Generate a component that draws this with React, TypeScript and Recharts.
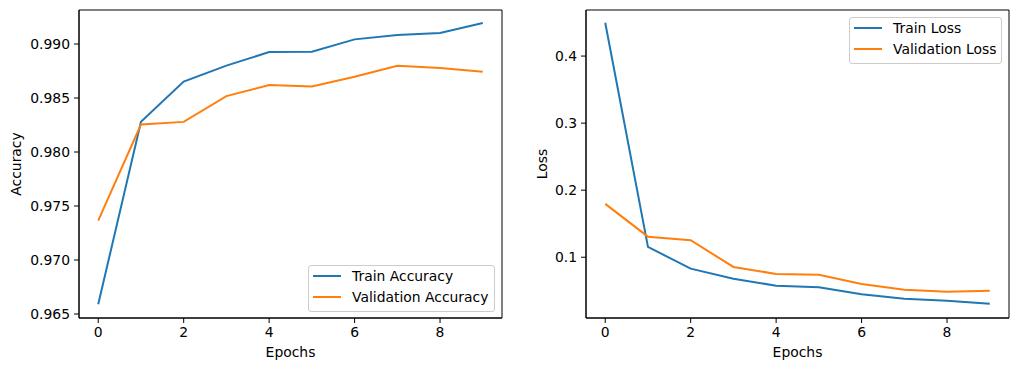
import { Legend, Line, LineChart, ReferenceArea, XAxis, YAxis } from "recharts"

const epochs = [0, 1, 2, 3, 4, 5, 6, 7, 8, 9]
const trainAccuracy = [0.9659, 0.9828, 0.98653, 0.988, 0.98926, 0.98929, 0.99043, 0.99083, 0.99102, 0.99195]
const valAccuracy = [0.97364, 0.98254, 0.98279, 0.98518, 0.9862, 0.98607, 0.98697, 0.98799, 0.98777, 0.98743]
const trainLoss = [0.4497, 0.1154, 0.083, 0.068, 0.0576, 0.0552, 0.0448, 0.0382, 0.0352, 0.0307]
const valLoss = [0.1796, 0.1307, 0.1254, 0.0855, 0.0751, 0.074, 0.0602, 0.0517, 0.0487, 0.0502]

const epochTicks = [0, 2, 4, 6, 8]
const accTicks = [0.965, 0.97, 0.975, 0.98, 0.985, 0.99]
const lossTicks = [0.1, 0.2, 0.3, 0.4]

const BLUE = "#1f77b4"
const ORANGE = "#ff7f0e"
const FONT = "'DejaVu Sans', sans-serif"
const FS = 13.9
const X_DOMAIN: [number, number] = [-0.45, 9.45]

const tickStyle = { fontSize: FS, fill: "#000", fontFamily: FONT }

type Item = { label: string; color: string }

function LegendBox({ items, width }: { items: Item[]; width: number }) {
  return (
    <div
      style={{
        width,
        boxSizing: "border-box",
        border: "1px solid #cccccc",
        borderRadius: 3,
        background: "rgba(255,255,255,0.8)",
        padding: "0 0 4px 4px",
        fontFamily: FONT,
        fontSize: FS,
        color: "#000",
      }}
    >
      {items.map((it, i) => (
        <div
          key={it.label}
          style={{ display: "flex", alignItems: "center", height: 20, marginTop: i === 0 ? 0 : 1.4 }}
        >
          <span style={{ display: "inline-block", width: 28, height: 2, background: it.color, marginRight: 11 }} />
          <span>{it.label}</span>
        </div>
      ))}
    </div>
  )
}

type PanelProps = {
  left: number
  width: number
  axisWidth: number
  marginRight: number
  labelOffset: number
  yLabel: string
  yDomain: [number, number]
  yTicks: number[]
  digits: number
  data: { epoch: number; train: number; val: number }[]
  items: Item[]
  legendPos: { left: number; top: number; width: number }
}

function Panel(p: PanelProps) {
  return (
    <div style={{ position: "absolute", left: p.left, top: 0 }}>
      <LineChart
        width={p.width}
        height={371}
        data={p.data}
        margin={{ top: 10, right: p.marginRight, bottom: 0, left: 0 }}
      >
        <XAxis
          dataKey="epoch"
          type="number"
          domain={X_DOMAIN}
          ticks={epochTicks}
          allowDataOverflow
          height={53}
          tickSize={5}
          tickMargin={4}
          tick={tickStyle}
          tickLine={{ stroke: "#000" }}
          axisLine={{ stroke: "#000" }}
          label={{ value: "Epochs", position: "insideBottom", offset: 14, style: { fontSize: FS, fill: "#000", fontFamily: FONT } }}
        />
        <YAxis
          type="number"
          domain={p.yDomain}
          ticks={p.yTicks}
          allowDataOverflow
          width={p.axisWidth}
          tickSize={5}
          tickMargin={4}
          tick={tickStyle}
          tickFormatter={(v: number) => v.toFixed(p.digits)}
          tickLine={{ stroke: "#000" }}
          axisLine={{ stroke: "#000" }}
          label={{
            value: p.yLabel,
            angle: -90,
            position: "insideLeft",
            offset: p.labelOffset,
            textAnchor: "middle",
            style: { fontSize: FS, fill: "#000", fontFamily: FONT, textAnchor: "middle" },
          }}
        />
        {/* frame around the plot area (top and right spines) */}
        <ReferenceArea
          x1={X_DOMAIN[0]}
          x2={X_DOMAIN[1]}
          y1={p.yDomain[0]}
          y2={p.yDomain[1]}
          fill="none"
          fillOpacity={0}
          stroke="#000"
          strokeOpacity={1}
          ifOverflow="visible"
        />
        <Line dataKey="train" name={p.items[0].label} stroke={BLUE} strokeWidth={2} dot={false} isAnimationActive={false} />
        <Line dataKey="val" name={p.items[1].label} stroke={ORANGE} strokeWidth={2} dot={false} isAnimationActive={false} />
        <Legend
          layout="horizontal"
          verticalAlign="middle"
          align="center"
          wrapperStyle={{ left: p.legendPos.left, top: p.legendPos.top, width: p.legendPos.width, height: "auto" }}
          content={() => <LegendBox items={p.items} width={p.legendPos.width} />}
        />
      </LineChart>
    </div>
  )
}

export default function App() {
  const accData = epochs.map((e, i) => ({ epoch: e, train: trainAccuracy[i], val: valAccuracy[i] }))
  const lossData = epochs.map((e, i) => ({ epoch: e, train: trainLoss[i], val: valLoss[i] }))

  return (
    <div style={{ position: "absolute", left: 0, top: 0, width: 1019, height: 371, background: "#fff" }}>
      <Panel
        left={0}
        width={510}
        axisWidth={79}
        marginRight={8}
        labelOffset={16}
        yLabel="Accuracy"
        yDomain={[0.96463, 0.99315]}
        yTicks={accTicks}
        digits={3}
        data={accData}
        items={[
          { label: "Train Accuracy", color: BLUE },
          { label: "Validation Accuracy", color: ORANGE },
        ]}
        legendPos={{ left: 308, top: 265, width: 187 }}
      />
      <Panel
        left={510}
        width={509}
        axisWidth={76}
        marginRight={10}
        labelOffset={32}
        yLabel="Loss"
        yDomain={[0.0094, 0.4687]}
        yTicks={lossTicks}
        digits={1}
        data={lossData}
        items={[
          { label: "Train Loss", color: BLUE },
          { label: "Validation Loss", color: ORANGE },
        ]}
        legendPos={{ left: 339, top: 17, width: 153 }}
      />
    </div>
  )
}
